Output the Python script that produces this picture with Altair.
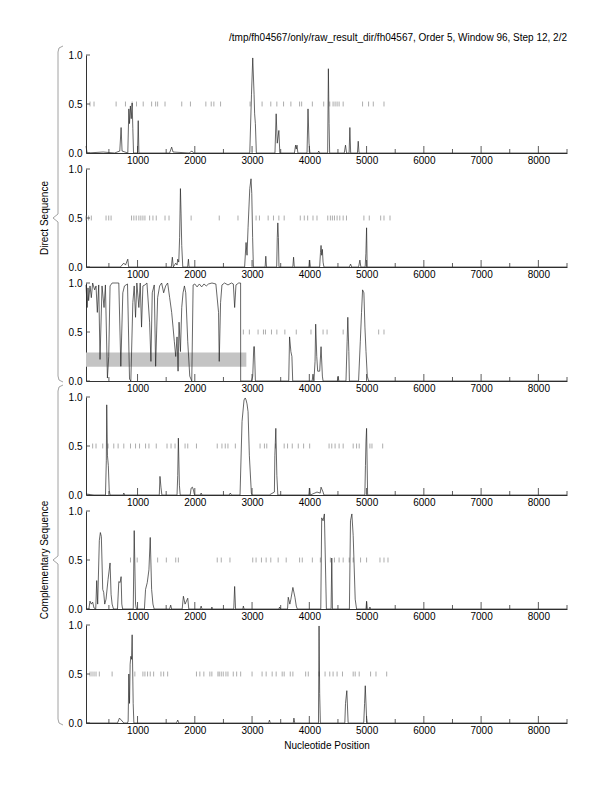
import altair as alt
import pandas as pd

# ---------------- data ----------------
x_domain = [100, 8500]
major_ticks = [1000, 2000, 3000, 4000, 5000, 6000, 7000, 8000]
minor_ticks = [500, 1500, 2500, 3500, 4500, 5500, 6500, 7500, 8500]
y_ticks = [0.0, 0.5, 1.0]

title_text = "/tmp/fh04567/only/raw_result_dir/fh04567, Order 5, Window 96, Step 12, 2/2"
group_labels = ["Direct Sequence", "Complementary Sequence"]

p1_x = [100, 120, 400, 600, 690, 713, 730, 830, 848, 860, 875, 890, 906, 918, 930, 1000, 1012, 1024,
        1560, 1596, 1620, 1900, 1950, 1980, 2960, 2990, 3012, 3035, 3045, 3058, 3075, 3400, 3421, 3440,
        3468, 3485, 3740, 3760, 3772, 3785, 3800, 3960, 3977, 3995, 4010, 4150, 4164, 4180, 4320, 4333,
        4345, 4355, 4610, 4632, 4650, 4695, 4708, 4722, 4840, 4854, 4868, 8500]
p1_y = [0.07, 0.0, 0.01, 0.0, 0.02, 0.26, 0.02, 0.0, 0.45, 0.3, 0.48, 0.35, 0.51, 0.25, 0.0, 0.0, 0.33, 0.0,
        0.0, 0.06, 0.01, 0.0, 0.02, 0.0, 0.0, 0.6, 0.97, 0.6, 0.4, 0.3, 0.0, 0.0, 0.4, 0.1,
        0.23, 0.0, 0.0, 0.08, 0.04, 0.08, 0.0, 0.0, 0.45, 0.1, 0.0, 0.0, 0.02, 0.0, 0.0, 0.86,
        0.3, 0.0, 0.0, 0.08, 0.0, 0.0, 0.26, 0.0, 0.0, 0.12, 0.0, 0.0]
p1_stops = [170, 240, 626, 789, 906, 982, 1099, 1246, 1316, 1351, 1480, 1772, 1924, 2193, 2287, 2333,
            2450, 2965, 3175, 3327, 3433, 3550, 3678, 3830, 3866, 4053, 4251, 4357, 4415, 4450, 4485,
            4520, 4591, 4930, 5035, 5117, 5304]

p2_x = [100, 700, 730, 760, 790, 830, 845, 1590, 1608, 1625, 1667, 1690, 1702, 1720, 1735, 1749, 1760,
        1772, 1790, 1875, 1889, 1900, 2870, 2895, 2912, 2930, 2960, 2982, 2995, 3010, 3023, 3228, 3240,
        3252, 3430, 3440, 3450, 3460, 3470, 3712, 3725, 3738, 3995, 4006, 4018, 4180, 4195, 4205, 4216,
        4228, 4240, 4255, 4700, 4720, 4740, 4860, 4883, 4900, 4975, 4988, 5000, 5010, 8500]
p2_y = [0.0, 0.0, 0.02, 0.04, 0.02, 0.08, 0.0, 0.0, 0.1, 0.0, 0.04, 0.02, 0.08, 0.05, 0.3, 0.8, 0.55,
        0.22, 0.0, 0.0, 0.08, 0.0, 0.0, 0.25, 0.12, 0.4, 0.8, 0.9, 0.75, 0.3, 0.0, 0.0, 0.11,
        0.0, 0.0, 0.3, 0.45, 0.3, 0.0, 0.0, 0.1, 0.0, 0.0, 0.07, 0.0, 0.0, 0.15, 0.22, 0.12,
        0.18, 0.05, 0.0, 0.0, 0.03, 0.0, 0.0, 0.07, 0.0, 0.0, 0.14, 0.4, 0.0, 0.0]
p2_stops = [100, 146, 193, 450, 497, 538, 895, 936, 977, 1023, 1058, 1094, 1129, 1211, 1269, 1327, 1480,
            1550, 1936, 2427, 2754, 3070, 3129, 3281, 3374, 3468, 3561, 3842, 3912, 3971, 4064, 4134,
            4322, 4368, 4403, 4439, 4485, 4532, 4591, 4649, 4953, 5047, 5246, 5304, 5409]

p3_x = [100, 120, 135, 146, 170, 193, 216, 251, 275, 298, 322, 345, 380, 415, 439, 474, 497, 520, 556,
        673, 708, 743, 772, 825, 860, 883, 918, 942, 965, 988, 1023, 1047, 1070, 1094, 1129, 1164, 1211,
        1234, 1257, 1292, 1316, 1351, 1386, 1421, 1456, 1491, 1526, 1561, 1596, 1620, 1643, 1667, 1690,
        1708, 1725, 1749, 1772, 1795, 1819, 1842, 1877, 1912, 1947, 1971, 2000, 2040, 2080, 2120, 2160,
        2200, 2240, 2300, 2368, 2415, 2427, 2450, 2474, 2520, 2580, 2640, 2673, 2696, 2719, 2766, 2800,
        2801, 2990, 3012, 3030, 3041, 3058, 3640, 3655, 3678, 3696, 3710, 4050, 4064, 4080, 4100, 4111,
        4130, 4146, 4181, 4205, 4228, 4240, 4490, 4503, 4515, 4640, 4660, 4672, 4690, 4700, 4860, 4890,
        4912, 4930, 4953, 4971, 4990, 5012, 5035, 8500]
p3_y = [0.98, 0.75, 0.95, 0.82, 0.97, 0.85, 1.0, 0.93, 0.97, 0.7, 0.98, 0.22, 0.97, 0.75, 0.98, 0.03, 0.25,
        0.97, 1.0, 1.0, 0.15, 0.9, 0.97, 0.99, 0.02, 0.0, 0.8, 0.97, 0.65, 1.0, 0.75, 1.0, 0.55, 0.97,
        0.98, 1.0, 0.6, 0.2, 0.9, 0.98, 0.15, 0.85, 0.97, 1.0, 0.9, 0.97, 1.0, 0.85, 0.7, 0.55, 0.4,
        0.25, 0.45, 0.1, 0.6, 0.3, 0.75, 0.9, 0.97, 0.9, 0.4, 0.05, 0.0, 0.98, 0.99, 0.96, 0.99, 0.96,
        0.99, 0.97, 0.99, 1.0, 0.99, 0.7, 0.2, 0.8, 0.98, 1.0, 0.98, 1.0, 0.99, 0.75, 0.98, 1.0, 1.0,
        0.0, 0.0, 0.05, 0.35, 0.35, 0.0, 0.0, 0.45, 0.3, 0.25, 0.0, 0.0, 0.07, 0.0, 0.2, 0.58,
        0.25, 0.1, 0.1, 0.35, 0.05, 0.0, 0.0, 0.05, 0.0, 0.0, 0.4, 0.65, 0.3, 0.0, 0.0, 0.4,
        0.7, 0.93, 0.9, 0.55, 0.3, 0.05, 0.0, 0.0]
p3_stops = [2848, 2953, 3105, 3199, 3234, 3339, 3433, 3573, 3772, 4029, 4240, 4310, 4591, 5211, 5304]

band_start = [100]
band_end = [2900]
band_low = [0.145]
band_high = [0.29]

p4_x = [100, 240, 440, 455, 462, 475, 490, 505, 520, 750, 760, 775, 1380, 1392, 1409, 1425, 1690, 1702,
        1713, 1731, 1745, 1920, 1936, 1959, 1977, 1995, 2100, 2111, 2125, 2600, 2620, 2640, 2790, 2825,
        2860, 2880, 2895, 2912, 2930, 2953, 2988, 3000, 3300, 3390, 3398, 3415, 3433, 3450, 3995, 4006,
        4018, 4134, 4190, 4205, 4240, 4255, 4970, 4980, 4990, 5000, 5018, 8500]
p4_y = [0.01, 0.0, 0.0, 0.35, 0.92, 0.4, 0.3, 0.05, 0.0, 0.0, 0.02, 0.0, 0.0, 0.19, 0.08, 0.0, 0.0, 0.2,
        0.58, 0.1, 0.0, 0.0, 0.07, 0.08, 0.05, 0.0, 0.0, 0.02, 0.0, 0.0, 0.02, 0.0, 0.0, 0.75,
        0.97, 0.99, 0.97, 0.93, 0.85, 0.4, 0.02, 0.0, 0.0, 0.03, 0.4, 0.68, 0.2, 0.0, 0.0, 0.07,
        0.0, 0.03, 0.02, 0.08, 0.03, 0.0, 0.0, 0.3, 0.55, 0.68, 0.0, 0.0]
p4_stops = [216, 275, 392, 485, 585, 661, 760, 877, 965, 1035, 1140, 1199, 1327, 1515, 1585, 1655, 1830,
            1877, 2029, 2392, 2474, 2532, 2579, 2708, 3140, 3216, 3257, 3409, 3561, 3620, 3702, 3807,
            3900, 4006, 4345, 4392, 4450, 4520, 4591, 4766, 4825, 4871, 5058, 5094, 5281]

p5_x = [100, 150, 170, 193, 216, 240, 270, 287, 304, 333, 351, 368, 392, 409, 427, 450, 485, 520, 538,
        556, 580, 650, 673, 696, 713, 725, 740, 925, 942, 965, 980, 1120, 1140, 1170, 1199, 1222, 1246,
        1269, 1290, 1560, 1579, 1595, 1780, 1801, 1830, 1877, 1895, 2095, 2111, 2125, 2290, 2298, 2310,
        2680, 2696, 2712, 2840, 2848, 2860, 3470, 3480, 3495, 3620, 3632, 3660, 3678, 3713, 3749, 3772,
        3790, 4200, 4216, 4240, 4263, 4298, 4380, 4392, 4404, 4700, 4719, 4743, 4766, 4801, 4825, 4990,
        5000, 5012, 5050, 5058, 5070, 8500]
p5_y = [0.0, 0.0, 0.08, 0.05, 0.07, 0.01, 0.0, 0.29, 0.05, 0.7, 0.78, 0.74, 0.2, 0.17, 0.05, 0.1, 0.3,
        0.47, 0.15, 0.05, 0.0, 0.0, 0.28, 0.27, 0.33, 0.05, 0.0, 0.0, 0.8, 0.05, 0.0, 0.0, 0.2, 0.27,
        0.4, 0.73, 0.2, 0.05, 0.0, 0.0, 0.04, 0.0, 0.0, 0.13, 0.05, 0.11, 0.0, 0.0, 0.03, 0.0, 0.0,
        0.02, 0.0, 0.0, 0.23, 0.0, 0.0, 0.03, 0.0, 0.0, 0.02, 0.0, 0.0, 0.12, 0.05, 0.1, 0.22, 0.12,
        0.03, 0.0, 0.0, 0.93, 0.9, 0.97, 0.0, 0.0, 0.52, 0.0, 0.0, 0.9, 0.97, 0.75, 0.1, 0.0, 0.0,
        0.08, 0.0, 0.0, 0.02, 0.0, 0.0]
p5_stops = [877, 994, 1351, 1503, 1667, 1713, 2392, 2462, 2614, 3012, 3070, 3164, 3246, 3327, 3456, 3596,
            3830, 3877, 4053, 4193, 4368, 4439, 4520, 4591, 4696, 4766, 4895, 5000, 5234, 5304, 5374]

p6_x = [100, 650, 684, 731, 760, 825, 836, 848, 860, 871, 883, 895, 906, 924, 936, 1680, 1702, 1720,
        3290, 3304, 3318, 3720, 3731, 3745, 4160, 4170, 4181, 4193, 4620, 4632, 4655, 4678, 4950, 4965,
        4977, 5000, 5012, 8500]
p6_y = [0.0, 0.0, 0.05, 0.02, 0.0, 0.0, 0.02, 0.5, 0.2, 0.6, 0.68, 0.65, 0.9, 0.2, 0.0, 0.0, 0.03, 0.0,
        0.0, 0.03, 0.0, 0.0, 0.05, 0.0, 0.0, 0.99, 0.3, 0.0, 0.0, 0.2, 0.33, 0.0, 0.0, 0.2,
        0.38, 0.05, 0.0, 0.0]
p6_stops = [170, 205, 240, 275, 333, 556, 953, 1094, 1129, 1175, 1222, 1281, 1409, 1456, 1526, 2029, 2088,
            2158, 2263, 2298, 2404, 2427, 2462, 2497, 2544, 2579, 2672, 2731, 2801, 3000, 3175, 3246,
            3351, 3421, 3526, 3561, 3667, 3713, 3936, 3982, 4170, 4275, 4357, 4415, 4485, 4579, 4766,
            4801, 4871, 5070, 5164, 5351]

panels_data = [
    (p1_x, p1_y, p1_stops),
    (p2_x, p2_y, p2_stops),
    (p3_x, p3_y, p3_stops),
    (p4_x, p4_y, p4_stops),
    (p5_x, p5_y, p5_stops),
    (p6_x, p6_y, p6_stops),
]

# ---------------- style ----------------
W, H = 481, 98
FONT = "Liberation Sans"
LINE = "#262626"
AXC = "#333333"
xscale = alt.Scale(domain=x_domain, nice=False, zero=False)
yscale = alt.Scale(domain=[0, 1], nice=False, zero=False)


def brace(tip, top, bottom):
    xr, xv, xt = -23, -28, -33
    segs = [
        (xr, top, xv + 1, top + 2), (xv + 1, top + 2, xv, top + 6),
        (xv, top + 6, xv, tip - 4), (xv, tip - 4, xt, tip), (xt, tip, xv, tip + 4),
        (xv, tip + 4, xv, bottom - 6), (xv, bottom - 6, xv + 1, bottom - 2), (xv + 1, bottom - 2, xr, bottom),
    ]
    one = pd.DataFrame({"k": [0]})
    layers = []
    for a, b, c, d in segs:
        layers.append(
            alt.Chart(one).mark_rule(color="#8c8c8c", strokeWidth=0.8, clip=False).encode(
                x=alt.value(a), x2=alt.value(c), y=alt.value(b), y2=alt.value(d)
            )
        )
    return layers


def panel(i, xs, ys, stops):
    last = i == 5
    xaxis = alt.Axis(values=major_ticks, format="d", ticks=False, grid=False,
                     labelPadding=2, domainColor=AXC,
                     title="Nucleotide Position" if last else None, titlePadding=5)
    yaxis = alt.Axis(values=y_ticks, format=".1f", ticks=False, grid=False,
                     labelPadding=4, domainColor=AXC, title=None)
    X = alt.X("pos:Q", scale=xscale, axis=xaxis)
    curve = pd.DataFrame({"pos": xs, "score": ys})
    stop_df = pd.DataFrame({"pos": stops})
    layers = []
    if i == 2:
        band = pd.DataFrame({"pos": band_start, "pos2": band_end, "score": band_low, "score2": band_high})
        layers.append(alt.Chart(band).mark_rect(color="#c4c4c4").encode(
            x=X, x2="pos2:Q", y=alt.Y("score:Q", scale=yscale, axis=yaxis), y2="score2:Q"))
    layers.append(alt.Chart(stop_df).mark_rule(color="#8a8a8a", strokeWidth=0.7).encode(
        x=X, y=alt.datum(0.475, scale=yscale, axis=yaxis), y2=alt.datum(0.525)))
    layers.append(alt.Chart(curve).mark_line(color=LINE, strokeWidth=0.7).encode(
        x=X, y=alt.Y("score:Q", scale=yscale, axis=yaxis)))
    # inward axis ticks
    layers.append(alt.Chart(pd.DataFrame({"pos": major_ticks})).mark_rule(color=AXC, strokeWidth=0.8).encode(
        x=X, y=alt.value(H), y2=alt.value(H - 7)))
    layers.append(alt.Chart(pd.DataFrame({"pos": minor_ticks})).mark_rule(color=AXC, strokeWidth=0.8).encode(
        x=X, y=alt.value(H), y2=alt.value(H - 4)))
    layers.append(alt.Chart(pd.DataFrame({"score": y_ticks})).mark_rule(color=AXC, strokeWidth=0.8).encode(
        y=alt.Y("score:Q", scale=yscale, axis=yaxis), x=alt.value(0), x2=alt.value(4)))
    if i == 0:
        layers.append(alt.Chart(pd.DataFrame({"t": [title_text]})).mark_text(
            align="right", baseline="middle", fontSize=10, font=FONT, color="black").encode(
            text="t:N", x=alt.value(W), y=alt.value(-17)))
    if i in (1, 4):
        label = group_labels[0] if i == 1 else group_labels[1]
        if i == 1:
            layers += brace(49, -123, 213)
        else:
            layers += brace(49, -126, 214)
        layers.append(alt.Chart(pd.DataFrame({"t": [label]})).mark_text(
            angle=270, align="center", baseline="middle", fontSize=10, font=FONT, color="black").encode(
            text="t:N", x=alt.value(-41), y=alt.value(49)))
    return alt.layer(*layers).properties(width=W, height=H)


charts = [panel(i, *d) for i, d in enumerate(panels_data)]
chart = alt.vconcat(*charts, spacing=16, bounds="flush").properties(
    padding={"left": 32, "top": 25, "right": 5, "bottom": 5}
).configure_view(stroke=None).configure_axis(
    labelFont=FONT, labelFontSize=10, labelColor="black",
    titleFont=FONT, titleFontSize=10, titleColor="black", titleFontWeight="normal",
    domainWidth=1,
)

chart.save("out.html", embed_options={"renderer": "svg", "actions": False})
